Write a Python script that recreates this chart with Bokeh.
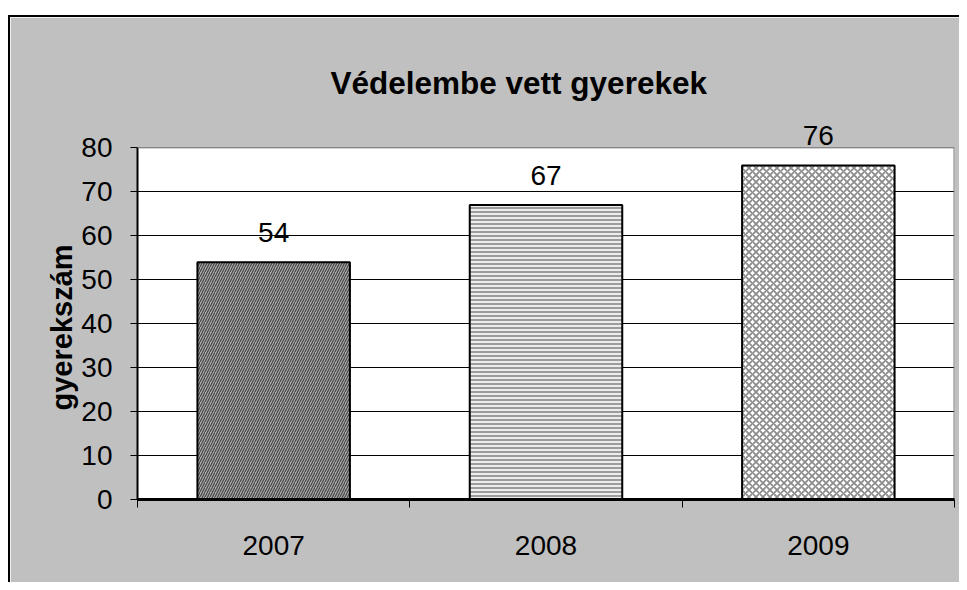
from bokeh.plotting import figure
from bokeh.models import Range1d, FixedTicker, Label, ColumnDataSource, Span, Title
from bokeh.embed import file_html
from bokeh.resources import INLINE

# ---- data ----
years = ["2007", "2008", "2009"]
values = [54, 67, 76]
y_ticks = [0, 10, 20, 30, 40, 50, 60, 70, 80]
title_text = "Védelembe vett gyerekek"
y_label = "gyerekszám"

# hatch styles per bar
fills = ["#b0b0b0", "#ececec", "#ffffff"]
hatch_colors = ["#4a4a4a", "#7a7a7a", "#8c8c8c"]
hatch_patterns = ["/", "-", "x"]
hatch_scales = [5, 4, 7]
hatch_weights = [1.3, 1.4, 1.8]

xpos = [i + 0.5 for i in range(len(years))]
src = ColumnDataSource(dict(x=xpos, top=values, year=years, fill=fills,
                            hc=hatch_colors, hp=hatch_patterns, hs=hatch_scales,
                            hw=hatch_weights))

FONT = "Liberation Sans"
BG = "#c0c0c0"
Y_MAX = max(y_ticks)
Y_ROOM = 86  # extra room above the plot area so the top value label is not clipped

p = figure(frame_width=817, frame_height=378, width=949, height=565,
           min_border_left=127, min_border_top=104, min_border_right=5, min_border_bottom=83,
           x_range=Range1d(0, len(years)), y_range=Range1d(0, Y_ROOM),
           output_backend="svg", toolbar_location=None, tools="",
           background_fill_color=BG, border_fill_color=BG,
           outline_line_color=None,
           styles={"border-left": "2px solid black", "border-top": "2px solid black",
                   "margin-top": "15px", "margin-left": "8px"})

# white plot area (0..80)
p.quad(left=0, right=len(years), bottom=0, top=Y_MAX, fill_color="white",
       line_color=None, level="image")
# plot area right edge
p.segment(x0=len(years), y0=0, x1=len(years), y1=Y_MAX, line_color="#808080", line_width=2)

p.vbar(x="x", top="top", bottom=0, width=0.56, source=src,
       fill_color="fill", line_color="black", line_width=2,
       hatch_pattern="hp", hatch_color="hc", hatch_scale="hs", hatch_weight="hw")

# gray strip above the plot area (room for the value labels), painted over anything below
p.quad(left=-0.05, right=len(years) + 0.05, bottom=Y_MAX, top=Y_ROOM + 1, fill_color=BG,
       fill_alpha=1, line_color=None, level="guide")

# top edge of the plot area (gray)
p.add_layout(Span(location=Y_MAX, dimension="width", line_color="#808080", line_width=1,
                  level="annotation"))

for xv, v in zip(xpos, values):
    p.add_layout(Label(x=xv, y=v, text=str(v), y_offset=30,
                       text_align="center", text_baseline="alphabetic",
                       text_font=FONT, text_font_size="28px", text_color="black"))

# title
p.title.text = title_text
p.title.align = "left"
p.title.offset = 193
p.title.standoff = 42
p.title.text_font = FONT
p.title.text_font_size = "31.5px"
p.title.text_font_style = "bold"
p.title.text_color = "black"

# y axis title (placed as a side title so it is centred on the 0..80 area)
p.add_layout(Title(text=y_label, align="left", offset=89, standoff=2,
                   text_font=FONT, text_font_size="29px", text_font_style="bold",
                   text_color="black"), "left")

# x axis
xa = p.xaxis[0]
xa.ticker = FixedTicker(ticks=xpos, minor_ticks=list(range(len(years) + 1)))
xa.major_label_overrides = {x: y for x, y in zip(xpos, years)}
xa.major_tick_line_color = None
xa.major_tick_out = 0
xa.major_tick_in = 0
xa.minor_tick_out = 8
xa.minor_tick_in = 0
xa.minor_tick_line_color = "black"
xa.minor_tick_line_width = 1
xa.axis_line_color = "black"
xa.axis_line_width = 3
xa.major_label_text_font = FONT
xa.major_label_text_font_size = "28px"
xa.major_label_text_color = "black"
xa.major_label_standoff = 28

# y axis
ya = p.yaxis[0]
ya.ticker = FixedTicker(ticks=y_ticks)
ya.bounds = (0, Y_MAX)
ya.major_tick_out = 7
ya.major_tick_in = 0
ya.major_tick_line_color = "black"
ya.major_tick_line_width = 1
ya.minor_tick_line_color = None
ya.axis_line_color = "black"
ya.axis_line_width = 2
ya.major_label_text_font = FONT
ya.major_label_text_font_size = "28px"
ya.major_label_text_color = "black"
ya.major_label_standoff = 18

p.xgrid.grid_line_color = None
p.ygrid.grid_line_color = "black"
p.ygrid.grid_line_width = 1
p.ygrid.level = "underlay"

open("out.html", "w").write(file_html(p, INLINE))
